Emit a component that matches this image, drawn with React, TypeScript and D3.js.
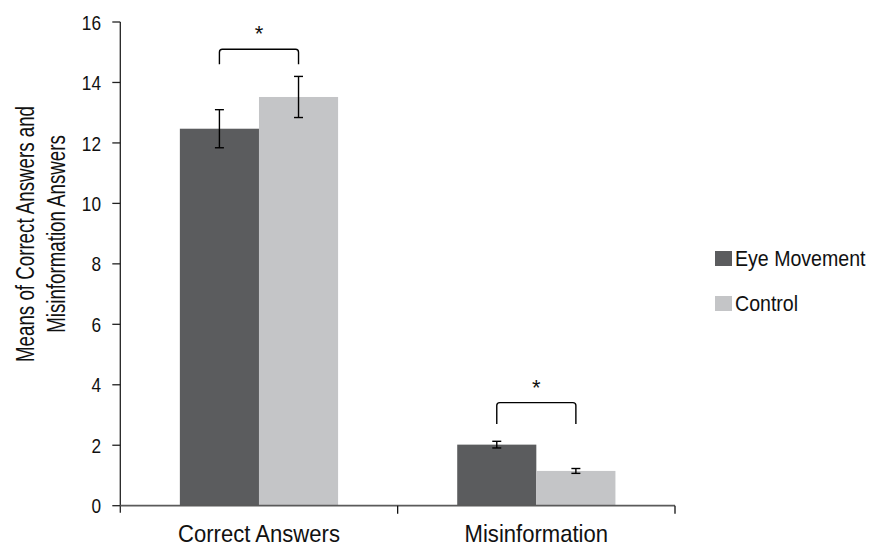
import React from "react";
import * as d3 from "d3";

const categories = ["Correct Answers", "Misinformation"];
const series = ["Eye Movement", "Control"];
const eyeMovementMeans = [12.47, 2.02];
const controlMeans = [13.52, 1.15];
const eyeMovementErr = [0.63, 0.11];
const controlErr = [0.68, 0.08];
const yTicks = [0, 2, 4, 6, 8, 10, 12, 14, 16];
const bracketTop = [15.1, 3.41];
const bracketBottom = [14.6, 2.7];
const yTitleLines = ["Means of Correct Answers and", "Misinformation Answers"];

const colors = ["#5b5c5e", "#c4c5c7"];
const FONT = "'Liberation Sans', Arial, Helvetica, sans-serif";

function SText({ x, y, size, sx = 0.9, anchor = "start", rotate = 0, children }: any) {
  return (
    <g transform={`translate(${x},${y}) rotate(${rotate}) scale(${sx},1)`}>
      <text x={0} y={0} fontSize={size} fontFamily={FONT} textAnchor={anchor} fill="#111">
        {children}
      </text>
    </g>
  );
}

export default function App() {
  const W = 869, H = 546;
  const x0 = d3.scaleBand<string>().domain(categories).range([120.3, 675]).paddingInner(0).paddingOuter(0);
  const x1 = d3.scaleBand<string>().domain(series).range([0, x0.bandwidth()]).paddingInner(0).paddingOuter(0.753);
  const y = d3.scaleLinear().domain([0, 16]).range([505.7, 22]);

  const values = [eyeMovementMeans, controlMeans];
  const errs = [eyeMovementErr, controlErr];

  const axisX = 120.3;
  const baseY = y(0);

  return (
    <svg width={W} height={H} style={{ position: "absolute", left: 0, top: 0, background: "#fff" }}>
      {/* bars */}
      {categories.map((c, ci) =>
        series.map((s, si) => {
          const bx = (x0(c) as number) + (x1(s) as number);
          const v = values[si][ci];
          return (
            <rect key={c + s} x={bx} y={y(v)} width={x1.bandwidth()} height={baseY - y(v)} fill={colors[si]} />
          );
        })
      )}
      {/* error bars */}
      {categories.map((c, ci) =>
        series.map((s, si) => {
          const cx = (x0(c) as number) + (x1(s) as number) + x1.bandwidth() / 2;
          const v = values[si][ci];
          const e = errs[si][ci];
          const yt = y(v + e), yb = y(v - e);
          return (
            <g key={"e" + c + s} stroke="#000" strokeWidth={1.4} fill="none">
              <line x1={cx} x2={cx} y1={yt} y2={yb} />
              <line x1={cx - 4.5} x2={cx + 4.5} y1={yt} y2={yt} />
              <line x1={cx - 4.5} x2={cx + 4.5} y1={yb} y2={yb} />
            </g>
          );
        })
      )}
      {/* significance brackets */}
      {categories.map((c, ci) => {
        const l = (x0(c) as number) + (x1(series[0]) as number) + x1.bandwidth() / 2;
        const r = (x0(c) as number) + (x1(series[1]) as number) + x1.bandwidth() / 2;
        const t = y(bracketTop[ci]);
        const b = y(bracketBottom[ci]);
        const path = `M${l},${b} L${l},${t + 3} Q${l},${t} ${l + 3},${t} L${r - 3},${t} Q${r},${t} ${r},${t + 3} L${r},${b}`;
        return (
          <g key={"b" + c}>
            <path d={path} stroke="#000" strokeWidth={1.4} fill="none" />
            <text x={(l + r) / 2} y={t - 8} fontSize={22} fontFamily={FONT} textAnchor="middle" fill="#111">*</text>
          </g>
        );
      })}
      {/* y axis */}
      <line x1={axisX} x2={axisX} y1={y(16)} y2={baseY + 7} stroke="#222" strokeWidth={1.3} />
      {yTicks.map((t) => (
        <g key={"t" + t}>
          <line x1={axisX - 8} x2={axisX} y1={y(t)} y2={y(t)} stroke="#222" strokeWidth={1.3} />
          <SText x={101} y={y(t) + 7.6} size={21} anchor="end" sx={0.82}>{t}</SText>
        </g>
      ))}
      {/* x axis */}
      <line x1={axisX} x2={675} y1={baseY} y2={baseY} stroke="#5a5a5a" strokeWidth={1.8} />
      {categories.map((c) => {
        const right = (x0(c) as number) + x0.bandwidth();
        return <line key={"xt" + c} x1={right} x2={right} y1={baseY} y2={baseY + 8} stroke="#111" strokeWidth={1.3} />;
      })}
      {categories.map((c) => (
        <SText key={"xl" + c} x={(x0(c) as number) + x0.bandwidth() / 2} y={542} size={24} anchor="middle" sx={0.92}>{c}</SText>
      ))}
      {/* y title */}
      {yTitleLines.map((l, i) => (
        <SText key={"yt" + i} x={34 + i * 31} y={234} size={25.5} anchor="middle" rotate={-90} sx={0.735}>{l}</SText>
      ))}
      {/* legend */}
      {series.map((s, si) => (
        <g key={"lg" + s}>
          <rect x={715} y={251 + si * 45} width={17} height={15} fill={colors[si]} />
          <SText x={735} y={266 + si * 45} size={22.5} sx={0.87}>{s}</SText>
        </g>
      ))}
    </svg>
  );
}
